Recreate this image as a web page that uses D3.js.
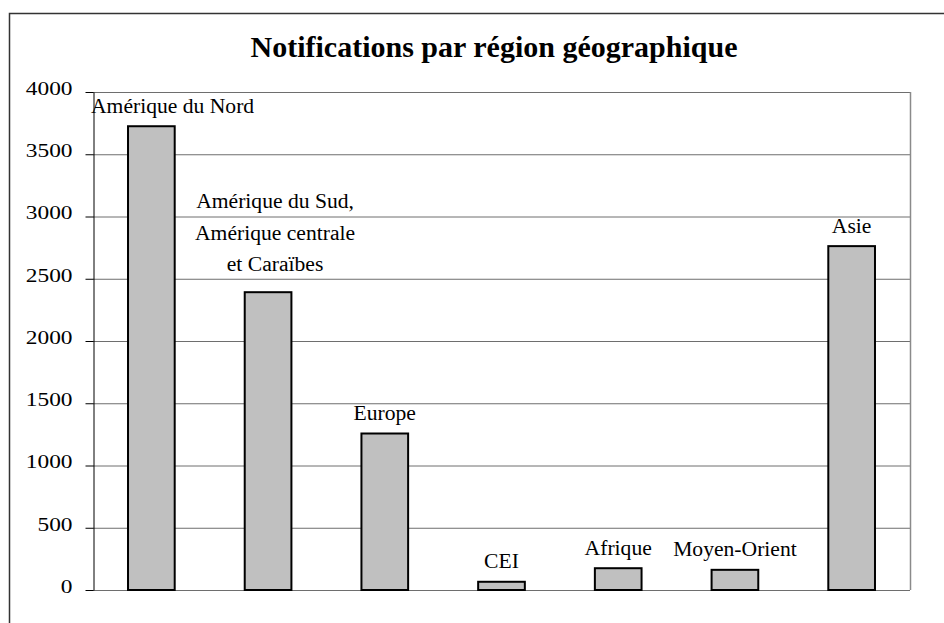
<!DOCTYPE html>
<html lang="fr">
<head>
  <meta charset="UTF-8">
  <title>Notifications par région géographique</title>
  <script src="https://cdn.jsdelivr.net/npm/d3@7/dist/d3.min.js"></script>
  <style>
    body { margin: 0; background: #fff; }
    svg { display: block; }
    svg text { font-family: "Liberation Serif", "Times New Roman", Times, "DejaVu Serif", serif; fill: #000; }
    .axis path, .axis line { stroke: #000; }
    .axis text { font-size: 19px; }
    .label { font-size: 20px; }
  </style>
</head>
<body>
<div id="chart"></div>
<script>
  // data
  var regions = [
    ["Amérique du Nord"],
    ["Amérique du Sud,", "Amérique centrale", "et Caraïbes"],
    ["Europe"],
    ["CEI"],
    ["Afrique"],
    ["Moyen-Orient"],
    ["Asie"]
  ];
  var notifications = [3725, 2392, 1257, 66, 175, 162, 2762];
  var yTicks = [0, 500, 1000, 1500, 2000, 2500, 3000, 3500, 4000];
  var title = "Notifications par région géographique";

  var width = 944, height = 623;
  var margin = {top: 92, right: 34, bottom: 33, left: 93};

  var svg = d3.select("#chart").append("svg")
    .attr("width", width)
    .attr("height", height);

  // outer frame (only left and top visible in the picture)
  svg.append("rect")
    .attr("x", 9.5).attr("y", 13.5)
    .attr("width", width).attr("height", height)
    .attr("fill", "none")
    .attr("stroke", "#333")
    .attr("stroke-width", 1.5);

  svg.append("text")
    .attr("x", 494).attr("y", 57)
    .attr("text-anchor", "middle")
    .style("font-size", "30px")
    .style("font-weight", "bold")
    .text(title);

  var x = d3.scaleBand()
    .domain(d3.range(regions.length))
    .range([margin.left, width - margin.right])
    .paddingInner(0.6)
    .paddingOuter(0.3);

  var y = d3.scaleLinear()
    .domain([0, 4000])
    .range([height - margin.bottom, margin.top]);

  // grid lines
  svg.append("g")
    .selectAll("line")
    .data(yTicks)
    .join("line")
    .attr("x1", margin.left).attr("x2", width - margin.right)
    .attr("y1", d => y(d) + 0.5).attr("y2", d => y(d) + 0.5)
    .attr("stroke", "#6e6e6e")
    .attr("stroke-width", 1);

  // right border of plot area
  svg.append("line")
    .attr("x1", width - margin.right + 0.5).attr("x2", width - margin.right + 0.5)
    .attr("y1", margin.top).attr("y2", height - margin.bottom)
    .attr("stroke", "#8a8a8a")
    .attr("stroke-width", 1.5);

  // bars
  svg.append("g")
    .selectAll("rect")
    .data(notifications)
    .join("rect")
    .attr("x", (d, i) => x(i))
    .attr("y", d => y(d))
    .attr("width", x.bandwidth())
    .attr("height", d => y(0) - y(d))
    .attr("fill", "#c0c0c0")
    .attr("stroke", "#000")
    .attr("stroke-width", 2);

  // y axis
  var yAxis = d3.axisLeft(y).tickValues(yTicks).tickFormat(d3.format("d"))
    .tickSize(8).tickPadding(13).tickSizeOuter(0);
  var gy = svg.append("g")
    .attr("class", "axis")
    .attr("transform", "translate(" + (margin.left + 0.5) + ",0)")
    .call(yAxis)
    .attr("font-family", null)
    .attr("font-size", null);
  gy.selectAll(".tick").attr("transform", d => "translate(0," + (y(d) + 0.5) + ")");
  gy.selectAll("text")
    .attr("dy", "0.12em")
    .each(function() {
      var w = this.getComputedTextLength();
      d3.select(this).attr("textLength", w * 1.23).attr("lengthAdjust", "spacingAndGlyphs");
    });

  // labels above bars
  var lineGap = 31.5;
  var labels = svg.append("g");
  regions.forEach(function(lines, i) {
    var cx = x(i) + x.bandwidth() / 2;
    var base = y(notifications[i]) - (lines.length > 1 ? 21 : 13.5);
    var t = labels.append("text")
      .attr("class", "label")
      .attr("text-anchor", "middle");
    lines.forEach(function(s, k) {
      t.append("tspan")
        .attr("x", cx + (lines.length > 1 ? 7 : 0))
        .attr("y", base - (lines.length - 1 - k) * lineGap)
        .text(s);
    });
    t.selectAll("tspan").each(function() {
      var w = this.getComputedTextLength();
      d3.select(this).attr("textLength", w * 1.08).attr("lengthAdjust", "spacingAndGlyphs");
    });
    // keep label inside plot area on the left
    var bb = t.node().getBBox();
    if (bb.x < margin.left - 2) {
      t.attr("transform", "translate(" + (margin.left - 2 - bb.x) + ",0)");
    }
  });
</script>
</body>
</html>
